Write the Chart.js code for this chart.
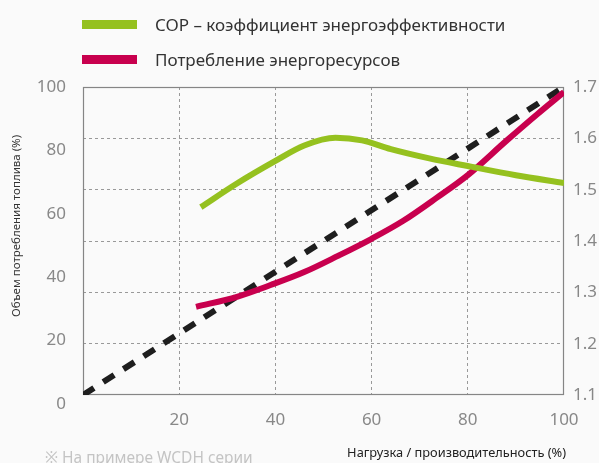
<!DOCTYPE html>
<html lang="ru">
<head>
<meta charset="utf-8">
<title>COP и потребление энергоресурсов</title>
<script src="https://cdn.jsdelivr.net/npm/chart.js@4.4.1/dist/chart.umd.min.js"></script>
<style>
    html, body { margin: 0; padding: 0; background: #fafafa; }
    body { width: 599px; height: 463px; position: relative; overflow: hidden; font-family: "Noto Sans", sans-serif; }
    #chart { position: absolute; left: 0; top: 0; }
    #legend { position: absolute; left: 82px; top: 7px; margin: 0; padding: 0; list-style: none; }
    #legend li { display: flex; align-items: center; height: 35px; font-size: 17px; color: #333; }
    #legend .swatch { width: 55px; height: 9px; margin-right: 18px; }
    #note { position: absolute; left: 45px; top: 447px; font-size: 15.5px; line-height: 20px; color: #c4c4c4; white-space: nowrap; }
</style>
</head>
<body>
<canvas id="chart" width="599" height="463"></canvas>
<ul id="legend"></ul>
<div id="note">※ На примере WCDH серии</div>

<script>
// COP (правая ось)
const copLoad = [24.5, 32, 40, 46, 52.5, 58, 64, 72, 80, 90, 100];
const copValues = [1.466, 1.512, 1.556, 1.586, 1.601, 1.596, 1.579, 1.561, 1.546, 1.528, 1.513];

// Потребление энергоресурсов (левая ось, %)
const energyLoad = [23.5, 32, 39, 46, 53, 60, 66.5, 73.5, 80, 88, 94.5, 100];
const energyValues = [30.6, 33.8, 37.5, 41.6, 46.7, 52.1, 57.7, 65, 72.2, 83, 91.5, 98.4];

// Линейное потребление топлива (пунктир, правая ось)
const fuelLoad = [0, 100];
const fuelValues = [1.1, 1.7];

const leftTicks = [0, 20, 40, 60, 80, 100];
const rightTicks = [1.1, 1.2, 1.3, 1.4, 1.5, 1.6, 1.7];
const loadTicks = [0, 20, 40, 60, 80, 100];

const gridColor = "#999";
const tickFont = { family: "Noto Sans", size: 17 };

function toPoints(xs, ys) {
    return xs.map((x, i) => ({ x: x, y: ys[i] }));
}

// Рамка вокруг области графика и подписи осей
const framePlugin = {
    id: "frame",
    beforeDatasetsDraw(chart) {
        const { ctx, chartArea: a } = chart;
        ctx.save();
        ctx.strokeStyle = "#858585";
        ctx.lineWidth = 1.2;
        ctx.strokeRect(a.left + 0.5, a.top + 0.5, a.right - a.left - 1, a.bottom - a.top - 1);
        ctx.restore();
    },
    afterDraw(chart) {
        const { ctx, chartArea: a } = chart;
        ctx.save();
        ctx.textBaseline = "middle";
        ctx.fillStyle = "#222";

        // подпись горизонтальной оси, по правому краю
        ctx.font = "12.8px 'Noto Sans'";
        ctx.textAlign = "right";
        ctx.fillText("Нагрузка / производительность (%)", a.right + 2, 453);

        // подпись левой оси
        ctx.translate(17, 226);
        ctx.rotate(-Math.PI / 2);
        ctx.textAlign = "center";
        ctx.font = "11.5px 'Noto Sans'";
        ctx.fillStyle = "#333";
        ctx.fillText("Объем потребления топлива (%)", 0, 0);
        ctx.restore();
    }
};

const chart = new Chart(document.getElementById("chart"), {
    type: "line",
    data: {
        datasets: [
            {
                label: "COP – коэффициент энергоэффективности",
                data: toPoints(copLoad, copValues),
                yAxisID: "y1",
                borderColor: "#95c11f",
                backgroundColor: "#95c11f",
                borderWidth: 6,
                borderCapStyle: "butt",
                cubicInterpolationMode: "monotone",
                pointRadius: 0
            },
            {
                label: "Потребление энергоресурсов",
                data: toPoints(energyLoad, energyValues),
                yAxisID: "y",
                borderColor: "#c8004e",
                backgroundColor: "#c8004e",
                borderWidth: 6,
                borderCapStyle: "butt",
                cubicInterpolationMode: "monotone",
                pointRadius: 0
            },
            {
                label: "",
                data: toPoints(fuelLoad, fuelValues),
                yAxisID: "y1",
                borderColor: "#1e1e1e",
                borderWidth: 6,
                borderDash: [13, 11],
                borderCapStyle: "butt",
                pointRadius: 0
            }
        ]
    },
    options: {
        responsive: false,
        animation: false,
        layout: { padding: { top: 87 } },
        plugins: {
            legend: { display: false },
            tooltip: { enabled: false }
        },
        scales: {
            x: {
                type: "linear",
                min: 0,
                max: 100,
                afterBuildTicks: (scale) => { scale.ticks = loadTicks.map(v => ({ value: v })); },
                afterFit: (scale) => { scale.height = 68; },
                ticks: {
                    font: tickFont,
                    color: "#888",
                    padding: 15,
                    maxRotation: 0,
                    callback: (v) => (v === 0 ? "" : v)
                },
                grid: {
                    drawTicks: false,
                    color: (c) => (c.tick && (c.tick.value === 0 || c.tick.value === 100) ? "transparent" : gridColor)
                },
                border: { display: false, dash: [3, 3] }
            },
            y: {
                position: "left",
                min: 2.8,
                max: 100,
                afterBuildTicks: (scale) => { scale.ticks = leftTicks.map(v => ({ value: v })); },
                afterFit: (scale) => { scale.width = 83; },
                ticks: { font: tickFont, color: "#888", padding: 17 },
                grid: { display: false, drawTicks: false },
                border: { display: false }
            },
            y1: {
                position: "right",
                min: 1.1,
                max: 1.7,
                afterBuildTicks: (scale) => { scale.ticks = rightTicks.map(v => ({ value: v })); },
                afterFit: (scale) => { scale.width = 35; },
                ticks: {
                    font: tickFont,
                    color: "#888",
                    padding: 9,
                    callback: (v) => v.toFixed(1)
                },
                grid: {
                    drawTicks: false,
                    color: (c) => (c.tick && (c.tick.value <= 1.1001 || c.tick.value >= 1.6999) ? "transparent" : gridColor)
                },
                border: { display: false, dash: [3, 3] }
            }
        }
    },
    plugins: [framePlugin]
});

// Легенда из наборов данных графика
const legend = document.getElementById("legend");
chart.data.datasets.filter(ds => ds.label).forEach(ds => {
    const li = document.createElement("li");
    const swatch = document.createElement("span");
    swatch.className = "swatch";
    swatch.style.background = ds.borderColor;
    li.appendChild(swatch);
    li.appendChild(document.createTextNode(ds.label));
    legend.appendChild(li);
});
</script>
</body>
</html>
